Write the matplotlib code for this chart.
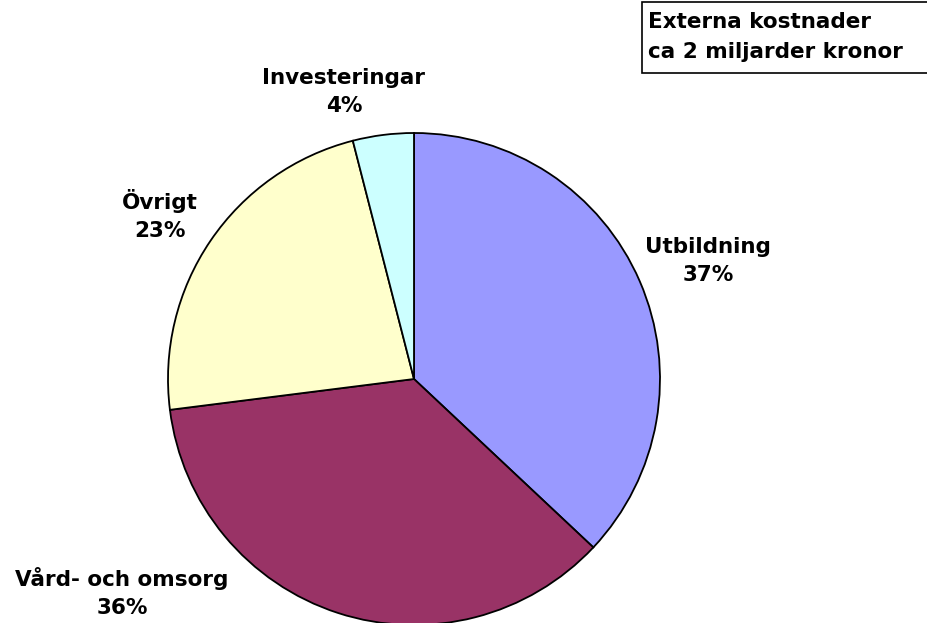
import matplotlib.pyplot as plt

categories = ["Utbildning", "Vård- och omsorg", "Övrigt", "Investeringar"]
shares = [37, 36, 23, 4]
colors = ["#9999FF", "#993366", "#FFFFCC", "#CCFFFF"]

# label anchor points in pixel coords (y from top)
label_pos = [(708, 261), (122, 592), (160, 215), (344, 92)]

W, H = 927, 623
cx, cy, r = 414, H - 379, 246

fig = plt.figure(figsize=(W / 100, H / 100), dpi=100)
ax = fig.add_axes([0, 0, 1, 1])

ax.pie(shares, colors=colors, startangle=90, counterclock=False,
       center=(cx, cy), radius=r, frame=True,
       wedgeprops=dict(edgecolor="black", linewidth=1.3))
ax.set_xlim(0, W)
ax.set_ylim(0, H)
ax.set_aspect("equal")
ax.axis("off")

font = dict(family="DejaVu Sans", fontsize=15.5, fontweight="bold")
for name, val, (x, y) in zip(categories, shares, label_pos):
    ax.text(x, H - y, f"{name}\n{val}%", ha="center", va="center",
            linespacing=1.5, **font)

ax.add_patch(plt.Rectangle((642, H - 73), 300, 71, facecolor="white",
                           edgecolor="black", linewidth=1.2, clip_on=False))
ax.text(648, H - 37, "Externa kostnader\nca 2 miljarder kronor",
        ha="left", va="center", linespacing=1.6, **font)

fig.savefig("out.png", dpi=100)
